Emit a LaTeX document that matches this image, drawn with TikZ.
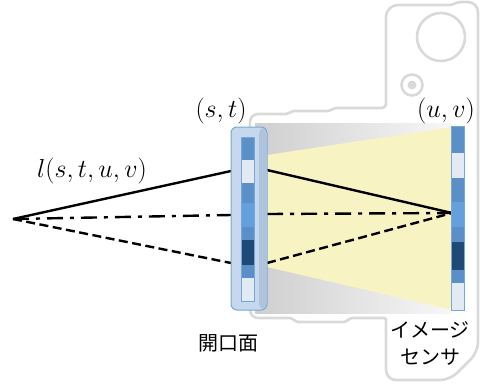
\RequirePackage{fix-cm}
\documentclass[tikz,border=0pt]{standalone}
\usepackage{fontspec}
\newfontfamily\jp{Noto Sans CJK JP}
\definecolor{camgray}{HTML}{D9D9D9}
\definecolor{apfill}{HTML}{C6D8EE}
\definecolor{apshade}{HTML}{AFC4DC}
\definecolor{apborder}{HTML}{7AA6D6}
\definecolor{cellmid}{HTML}{5B8FC8}
\definecolor{celllight}{HTML}{E2EAF4}
\definecolor{cellbright}{HTML}{64A0DE}
\definecolor{celldark}{HTML}{1E4A78}
\definecolor{beam}{HTML}{F8F3C3}
\tikzset{
  camline/.style={draw=camgray, line width=2.6pt},
  ray/.style={line width=2.4pt, black},
  dashray/.style={ray, dash pattern=on 9pt off 4.5pt},
  dotray/.style={ray, dash pattern=on 16pt off 7pt on 4pt off 7pt},
  lbl/.style={inner sep=0pt, font=\fontsize{26}{30}\selectfont},
  jplbl/.style={inner sep=0pt, font=\fontsize{20}{26}\selectfont\jp, align=center},
}
\begin{document}
\begin{tikzpicture}[x=1pt,y=-1pt]
\useasboundingbox (0,0) rectangle (486,388);

% shaded interior between aperture and sensor
\shade[left color=gray!38, right color=gray!6] (255,123) rectangle (452,313);
% light beam reaching the sensor
\fill[beam] (267,155) -- (452,127) -- (452,310) -- (267,267) -- cycle;

% camera body outline
\draw[camline, line join=round] (250,200) [rounded corners=8pt] -- (250,114)
  [rounded corners=2pt] -- (288,114) -- (292,111) -- (330,111) -- (334,108)
  [rounded corners=4pt] -- (386,108)
  [rounded corners=12pt] -- (386,5)
  [rounded corners=2pt] -- (452,5) -- (458,2)
  [rounded corners=10pt] -- (478,2) -- (478,352) -- (450,380) -- (386,380)
  [rounded corners=2pt] -- (386,318) -- (350,318) -- (346,322) -- (296,322) -- (292,318)
  [rounded corners=8pt] -- (250,318) -- (250,200);
\draw[camline] (441,37) circle (24);
\draw[camline] (412,85) circle (10.5);
\fill[camgray] (412,85) circle (4.5);

% rays from the scene point through the aperture to the sensor
\coordinate (P) at (13,219);
\coordinate (S) at (452,213);
\coordinate (aTl) at (231,171);
\coordinate (aTr) at (267,170);
\coordinate (aMl) at (231,215);
\coordinate (aMr) at (267,214);
\coordinate (aBl) at (231,263);
\coordinate (aBr) at (267,263);
\draw[ray] (P) -- (aTl);
\draw[ray] (aTr) -- (S);
\draw[dotray] (P) -- (aMl);
\draw[dotray] (aMr) -- (S);
\draw[dashray] (P) -- (aBl);
\draw[dashray] (aBr) -- (S);

% aperture plane
\node[draw=apborder, fill=apfill, line width=1pt, rounded corners=6pt,
      minimum width=36pt, minimum height=183pt, inner sep=0pt] (ap) at (249,218.5) {};
\fill[apshade, rounded corners=5pt] (259,128) rectangle (266.5,309);
\fill[apfill] (255,128) rectangle (259,309);
\begin{scope}
  \fill[cellmid]    (241,137) rectangle (254,160);
  \fill[celllight]  (241,160) rectangle (254,183);
  \fill[cellmid]    (241,183) rectangle (254,203);
  \fill[cellbright] (241,203) rectangle (254,227);
  \fill[cellmid]    (241,227) rectangle (254,240);
  \fill[celldark]   (241,240) rectangle (254,265);
  \fill[cellmid]    (241,265) rectangle (254,278);
  \fill[celllight]  (241,278) rectangle (254,301);
  \draw[apborder, line width=0.8pt] (241,137) rectangle (254,301);
\end{scope}

% image sensor
\node[inner sep=0pt, minimum width=12pt, minimum height=183pt] (sensor) at (458,218.5) {};
\fill[cellmid]    (452,127) rectangle (464,153);
\fill[celllight]  (452,153) rectangle (464,178);
\fill[cellmid]    (452,178) rectangle (464,202);
\fill[cellbright] (452,202) rectangle (464,227);
\fill[cellmid]    (452,227) rectangle (464,242);
\fill[celldark]   (452,242) rectangle (464,270);
\fill[cellmid]    (452,270) rectangle (464,283);
\fill[celllight]  (452,283) rectangle (464,310);
\draw[apborder, line width=0.8pt] (sensor.north west) rectangle (sensor.south east);

% labels
\node[lbl] (lst) at (221,111) {$(s,t)$};
\node[lbl] (luv) at (446,111) {$(u,v)$};
\node[lbl] (lfield) at (92,171) {$l(s,t,u,v)$};
\node[jplbl] (japer) at (228,343) {開口面};
\node[jplbl] (jsens) at (430,344) {イメージ\\[1pt]センサ};
\end{tikzpicture}
\end{document}
